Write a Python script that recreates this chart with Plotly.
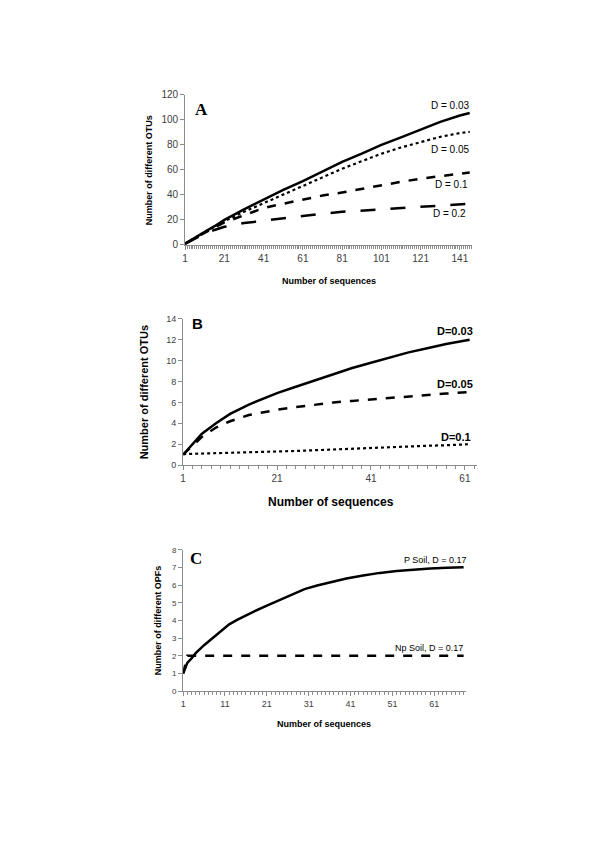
import plotly.graph_objects as go

# *** Panel A: OTUs vs sequences ***
A_seq = [1, 6, 11, 16, 21, 31, 41, 51, 61, 71, 81, 91, 101, 111, 121, 131, 141, 146]
A_d003 = [1, 6, 10.5, 15, 20, 28.5, 36.5, 44, 51, 58.5, 66.5, 73, 80, 86, 92.5, 98.5, 103.5, 105.5]
A_d005 = [1, 6, 10.5, 14.5, 19, 26.5, 33.5, 40.5, 47, 54, 61, 67, 73, 78, 82.5, 86.5, 89.5, 90.5]
A_d01 = [1, 5.5, 10, 14, 18, 24, 29.5, 33, 36.5, 39.5, 42, 45, 48, 50.5, 53, 55, 57, 58]
A_d02 = [1, 5, 9, 12, 14.5, 17.5, 19.5, 21.5, 23.5, 25, 26.5, 27.5, 28.5, 29.5, 30.5, 31.5, 32.5, 33]
A_xticks = [1, 21, 41, 61, 81, 101, 121, 141]

# *** Panel B ***
B_seq = [1, 3, 5, 8, 11, 15, 21, 25, 29, 33, 37, 41, 45, 49, 53, 57, 62]
B_d003 = [1, 2, 3, 4, 4.9, 5.8, 6.9, 7.5, 8.1, 8.7, 9.3, 9.8, 10.3, 10.8, 11.2, 11.6, 12]
B_d005 = [1, 1.9, 2.7, 3.6, 4.2, 4.8, 5.3, 5.55, 5.8, 6.0, 6.15, 6.3, 6.45, 6.6, 6.75, 6.85, 7.0]
B_d01 = [1.05, 1.07, 1.1, 1.12, 1.15, 1.2, 1.3, 1.35, 1.42, 1.5, 1.55, 1.65, 1.7, 1.75, 1.85, 1.9, 2.0]
B_xticks = [1, 21, 41, 61]

# *** Panel C: OPFs ***
C_seq = [1, 2, 3, 4, 6, 8, 10, 12, 14, 16, 18, 21, 24, 27, 30, 33, 36, 40, 44, 48, 52, 56, 60, 64, 68]
C_psoil = [1, 1.6, 1.85, 2.15, 2.6, 3.0, 3.4, 3.78, 4.05, 4.3, 4.52, 4.85, 5.17, 5.48, 5.78, 5.98, 6.15, 6.38,
           6.55, 6.7, 6.8, 6.88, 6.95, 6.99, 7.02]
C_npsoil = [1, 2, 2, 2, 2, 2, 2, 2, 2, 2, 2, 2, 2, 2, 2, 2, 2, 2, 2, 2, 2, 2, 2, 2, 2]
C_xticks = [1, 11, 21, 31, 41, 51, 61]

W, H = 600, 848
FONT = "Liberation Sans"
AXCOL = "#8c8c8c"

def px_x(v):
    return v / W

def px_y(v):
    return 1 - v / H

fig = go.Figure()

def add_line(x, y, dash, width, ax):
    fig.add_trace(go.Scatter(x=x, y=y, mode="lines", xaxis="x" + ax, yaxis="y" + ax,
                             line=dict(color="black", width=width, dash=dash), showlegend=False))

add_line(A_seq, A_d02, "longdash", 2.5, "")
add_line(A_seq, A_d01, "dash", 2.5, "")
add_line(A_seq, A_d005, "dot", 2.2, "")
add_line(A_seq, A_d003, "solid", 2.5, "")

add_line(B_seq, B_d01, "dot", 2.2, "2")
add_line(B_seq, B_d005, "dash", 2.5, "2")
add_line(B_seq, B_d003, "solid", 2.5, "2")

add_line(C_seq, C_npsoil, "dash", 2.5, "3")
add_line(C_seq, C_psoil, "solid", 2.5, "3")

def xaxis(dom, rng, ticks, minor_step, size):
    return dict(domain=[px_x(dom[0]), px_x(dom[1])], range=rng, tickvals=ticks,
                showline=True, linecolor=AXCOL, linewidth=1, ticks="outside", ticklen=4,
                tickcolor=AXCOL, showgrid=False, zeroline=False,
                tickfont=dict(family=FONT, size=size, color="#404040"),
                minor=dict(dtick=minor_step, tick0=1, ticks="outside", ticklen=3, tickcolor=AXCOL))

def yaxis(dom, rng, step, size, anchor):
    return dict(domain=[px_y(dom[1]), px_y(dom[0])], range=rng, dtick=step, anchor=anchor,
                showline=True, linecolor=AXCOL, linewidth=1, ticks="outside", ticklen=4,
                tickcolor=AXCOL, showgrid=False, zeroline=False,
                tickfont=dict(family=FONT, size=size, color="#404040"))

fig.update_layout(
    width=W, height=H, margin=dict(l=0, r=0, t=0, b=0),
    plot_bgcolor="white", paper_bgcolor="white",
    xaxis=dict(xaxis((175, 463), [1, 147], A_xticks, 1, 10), anchor="y"),
    yaxis=yaxis((83, 235), [0, 120], 20, 10, "x"),
    xaxis2=dict(xaxis((173, 468), [1, 63.5], B_xticks, 2, 10), anchor="y2"),
    yaxis2=yaxis((310, 458), [0, 14], 2, 9, "x2"),
    xaxis3=dict(xaxis((173, 457), [1, 68.5], C_xticks, 1, 9), anchor="y3"),
    yaxis3=yaxis((544, 687), [0, 8], 1, 8, "x3"),
)

def note(text, x, y, size, bold=False, family=FONT, xanchor="center", angle=0):
    if bold:
        text = "<b>" + text + "</b>"
    fig.add_annotation(text=text, x=px_x(x), y=px_y(y), xref="paper", yref="paper",
                       showarrow=False, xanchor=xanchor, yanchor="middle", textangle=angle,
                       font=dict(family=family, size=size, color="black"))

# Panel letters
note("A", 191, 98, 17, True, "Liberation Serif")
note("B", 187, 315, 15, True)
note("C", 186, 553, 17, True, "Liberation Serif")

# Series labels
note("D = 0.03", 463, 94, 10, xanchor="right")
note("D = 0.05", 463, 138, 10, xanchor="right")
note("D = 0.1", 461, 174, 10, xanchor="right")
note("D = 0.2", 459, 203, 10, xanchor="right")

note("D=0.03", 466, 322, 11, True, xanchor="right")
note("D=0.05", 466, 376, 11, True, xanchor="right")
note("D=0.1", 464, 430, 11, True, xanchor="right")

note("P Soil, D = 0.17", 460, 554, 9, xanchor="right")
note("Np Soil, D = 0.17", 456, 643, 9, xanchor="right")

# Axis titles
note("Number of different OTUs", 139, 159, 9, True, angle=-90)
note("Number of sequences", 320, 272, 9, True)
note("Number of different OTUs", 134, 384, 11, True, angle=-90)
note("Number of sequences", 322, 495, 12, True)
note("Number of different OPFs", 148, 615, 9, True, angle=-90)
note("Number of sequences", 315, 720, 9, True)

fig.write_html("out.html")
